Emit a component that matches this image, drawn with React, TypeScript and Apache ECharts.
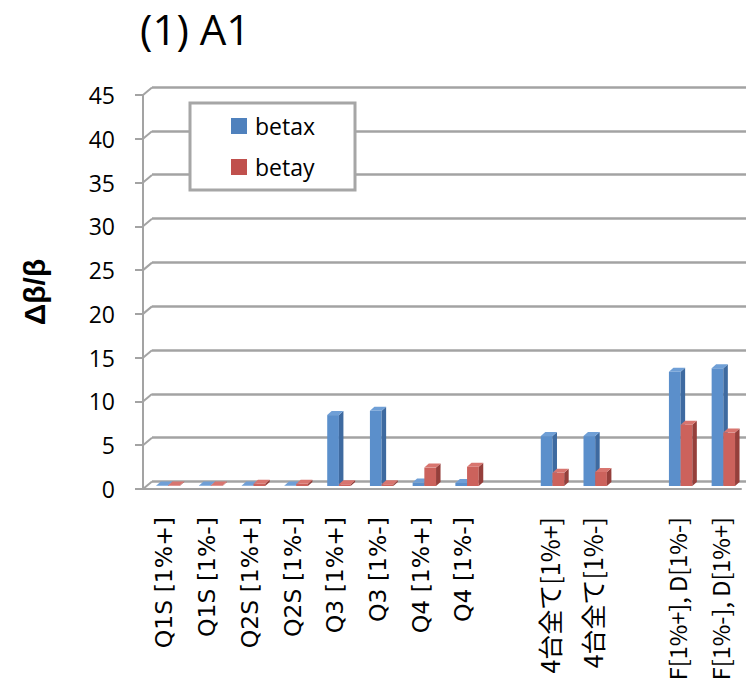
import React, { useEffect, useRef } from "react";
import * as echarts from "echarts";

const categories = [
  "Q1S [1%+]", "Q1S [1%-]", "Q2S [1%+]", "Q2S [1%-]",
  "Q3 [1%+]", "Q3 [1%-]", "Q4 [1%+]", "Q4 [1%-]",
  "", "4台全て[1%+]", "4台全て[1%-]", "",
  "F[1%+], D[1%-]", "F[1%-], D[1%+]",
];
const betax = [0.05, 0.05, 0.05, 0.05, 8.1, 8.6, 0.4, 0.35, null, 5.7, 5.7, null, 13.05, 13.45];
const betay = [0.05, 0.05, 0.25, 0.25, 0.2, 0.2, 2.1, 2.2, null, 1.5, 1.6, null, 7.0, 6.1];
const yTicks = [0, 5, 10, 15, 20, 25, 30, 35, 40, 45];
const titleText = "(1) A1";
const yName = "Δβ/β";

const GRAY = "#a3a3a3";

function barRenderer(offset: number, front: string, side: string, topc: string) {
  return (params: any, api: any) => {
    const cat = api.value(0);
    const v = api.value(1);
    const base = api.coord([cat, 0]);
    const top = api.coord([cat, v]);
    const w = 11.7;
    const dx = 4.5;
    const dy = -4;
    const x0 = base[0] + offset;
    const x1 = x0 + w;
    const yb = base[1] - 3;
    const yt = top[1] - 3;
    return {
      type: "group",
      children: [
        { type: "rect", shape: { x: x0, y: yt, width: w, height: yb - yt }, style: { fill: front } },
        { type: "polygon", shape: { points: [[x1, yb], [x1, yt], [x1 + dx, yt + dy], [x1 + dx, yb + dy]] }, style: { fill: side } },
        { type: "polygon", shape: { points: [[x0, yt], [x1, yt], [x1 + dx, yt + dy], [x0 + dx, yt + dy]] }, style: { fill: topc } },
      ],
    };
  };
}

export default function App() {
  const ref = useRef<HTMLDivElement>(null);
  useEffect(() => {
    if (!ref.current) return;
    const chart = echarts.init(ref.current, undefined, { renderer: "svg" });
    const toData = (arr: (number | null)[]) =>
      arr.map((v, i) => (v === null ? null : [i, v])).filter((d) => d !== null);
    chart.setOption({
      animation: false,
      backgroundColor: "#fff",
      title: {
        text: titleText,
        left: 140,
        top: 2,
        padding: 0,
        textStyle: { fontFamily: "Open Sans", fontSize: 42, fontWeight: "normal", color: "#000", lineHeight: 52 },
      },
      legend: {
        orient: "vertical",
        left: 190,
        top: 103,
        backgroundColor: "#fff",
        borderColor: "#a6a6a6",
        borderWidth: 3,
        padding: [11, 40, 11, 41],
        itemWidth: 16,
        itemHeight: 16,
        itemGap: 17,
        icon: "rect",
        textStyle: { fontFamily: "Open Sans", fontSize: 23, color: "#000", lineHeight: 24, padding: [0, 0, 0, 3] },
        data: ["betax", "betay"],
      },
      grid: [
        { left: 143, right: 5, top: 95, bottom: 199, outerBoundsMode: "none", containLabel: false },
        { left: 152, right: 0, top: 87, bottom: 206.5, outerBoundsMode: "none", containLabel: false },
      ],
      xAxis: [
        {
          type: "category",
          gridIndex: 0,
          data: categories,
          axisLine: { lineStyle: { color: GRAY, width: 2 } },
          axisTick: { length: 8, lineStyle: { color: GRAY, width: 2 } },
          axisLabel: {
            interval: 0,
            rotate: 90,
            margin: 28,
            color: "#000",
            formatter: (s: string) =>
              s.startsWith("Q") ? `{a|${s}}` : s.startsWith("F") ? `{c|${s}}` : `{b|${s}}`,
            rich: {
              a: { fontFamily: "DejaVu Sans", fontSize: 23.5, color: "#000" },
              b: { fontFamily: "Noto Sans CJK JP", fontSize: 25, color: "#000" },
              c: { fontFamily: "Noto Sans CJK JP", fontSize: 23.5, color: "#000" },
            },
          },
        },
        { type: "category", gridIndex: 1, data: categories, show: false },
      ],
      yAxis: [
        {
          type: "value",
          gridIndex: 0,
          min: 0,
          max: 45,
          interval: 5,
          name: yName,
          nameLocation: "middle",
          nameRotate: 90,
          nameGap: 94,
          nameTextStyle: { fontFamily: "Liberation Sans", fontSize: 30, fontWeight: "bold", color: "#000" },
          axisLine: { show: true, lineStyle: { color: GRAY, width: 2 } },
          axisTick: { show: true, length: 8, lineStyle: { color: GRAY, width: 2 } },
          axisLabel: { margin: 28, fontFamily: "Open Sans", fontSize: 23, color: "#000" },
          splitLine: { show: false },
        },
        {
          type: "value",
          gridIndex: 1,
          min: 0,
          max: 45,
          interval: 5,
          axisLine: { show: false },
          axisTick: { show: false },
          axisLabel: { show: false },
          splitLine: { show: true, lineStyle: { color: GRAY, width: 2.5 } },
        },
      ],
      series: [
        {
          type: "custom",
          name: "connectors",
          xAxisIndex: 0,
          yAxisIndex: 0,
          silent: true,
          data: yTicks.map((v) => [0, v]),
          renderItem: (params: any, api: any) => {
            const p = api.coord([0, api.value(1)]);
            const x0 = params.coordSys.x;
            return {
              type: "line",
              shape: { x1: x0, y1: p[1], x2: x0 + 9, y2: p[1] - 7.5 },
              style: { stroke: GRAY, lineWidth: 2 },
            };
          },
        },
        {
          type: "custom",
          name: "betax",
          xAxisIndex: 0,
          yAxisIndex: 0,
          itemStyle: { color: "#4f81bd" },
          data: toData(betax),
          renderItem: barRenderer(-8, "#5b8fcb", "#3e6aa0", "#6f9fd6"),
        },
        {
          type: "custom",
          name: "betay",
          xAxisIndex: 0,
          yAxisIndex: 0,
          itemStyle: { color: "#c0504d" },
          data: toData(betay),
          renderItem: barRenderer(3.7, "#cc625c", "#953f3b", "#d8756f"),
        },
      ],
    });
    return () => chart.dispose();
  }, []);
  return <div ref={ref} style={{ width: 746, height: 688, position: "absolute", left: 0, top: 0 }} />;
}
